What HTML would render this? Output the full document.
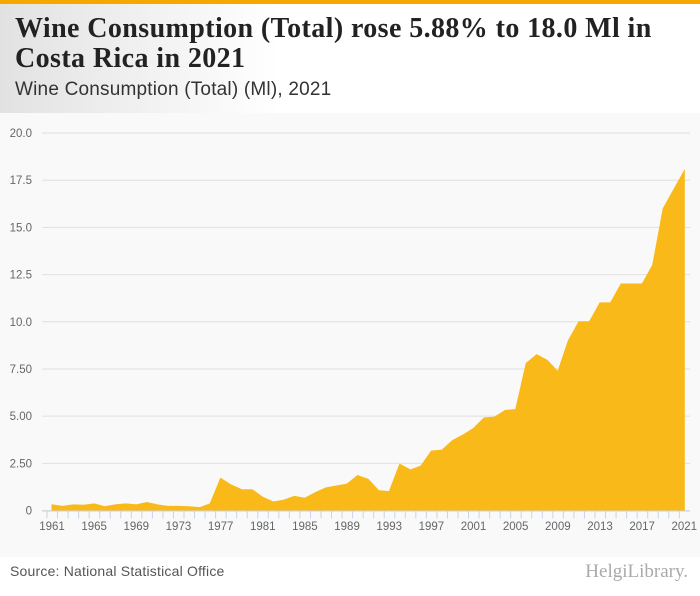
<!DOCTYPE html>
<html><head><meta charset="utf-8"><style>
body{margin:0;width:700px;height:596px;overflow:hidden;background:#fff;font-family:"Liberation Sans",sans-serif}
#hdr{position:absolute;left:0;top:0;width:700px;height:113px;background:linear-gradient(90deg,#e2e2e2 0,#fff 40%,#fff 100%)}
#bar{position:absolute;left:0;top:0;width:700px;height:4px;background:#f5a800}
#title{position:absolute;left:15px;top:14px;font-family:"Liberation Serif",serif;font-weight:bold;font-size:28px;line-height:30px;color:#222;width:650px;letter-spacing:0.4px}
#sub{position:absolute;left:15px;top:79px;font-size:19px;color:#333;letter-spacing:0.2px}
#chart{position:absolute;left:0;top:113px;width:700px;height:444px;background:#f9f9f9}
#foot{position:absolute;left:0;top:557px;width:700px;height:39px;background:#fff}
#src{position:absolute;left:10px;top:563px;font-size:14px;color:#555;letter-spacing:0.2px}
#logo{position:absolute;right:12px;top:561px;font-size:19px;color:#aaa;font-family:"Liberation Serif",serif}
</style></head><body>
<div id="hdr"></div>
<div id="bar"></div>
<div id="title">Wine Consumption (Total) rose 5.88% to 18.0 Ml in Costa Rica in 2021</div>
<div id="sub">Wine Consumption (Total) (Ml), 2021</div>
<div id="chart"></div>
<svg id="svg" width="700" height="596" style="position:absolute;left:0;top:0"></svg>
<div id="foot"></div>
<div id="src">Source: National Statistical Office</div>
<div id="logo">HelgiLibrary.</div>
<script>
const years=[];for(let y=1961;y<=2021;y++)years.push(y);
const values=[0.3,0.22,0.3,0.28,0.35,0.2,0.3,0.35,0.3,0.42,0.3,0.22,0.22,0.2,0.15,0.35,1.7,1.35,1.1,1.1,0.7,0.45,0.55,0.75,0.65,0.95,1.2,1.3,1.4,1.85,1.65,1.05,1.0,2.45,2.15,2.35,3.15,3.2,3.7,4.0,4.35,4.9,4.95,5.3,5.35,7.8,8.25,7.95,7.35,9.0,10.0,10.0,11.0,11.0,12.0,12.0,12.0,13.0,16.0,17.0,18.0];
const yTicks=[0,2.5,5,7.5,10,12.5,15,17.5,20];
const yTickLabels=["0","2.50","5.00","7.50","10.0","12.5","15.0","17.5","20.0"];
const xLabelYears=[1961,1965,1969,1973,1977,1981,1985,1989,1993,1997,2001,2005,2009,2013,2017,2021];
const svg=document.getElementById('svg');const NS='http://www.w3.org/2000/svg';
const X=y=>52+(y-1961)*(684.3-52)/60;
const Y=v=>510.5-v*(510.5-133)/20;
function mk(t,a){const e=document.createElementNS(NS,t);for(const k in a)e.setAttribute(k,a[k]);svg.appendChild(e);return e;}
yTicks.forEach((t,i)=>{
 const g=mk('line',{x1:42,x2:690,y1:Y(t),y2:Y(t),stroke:'#e0e0e0','stroke-width':1});
 
 
 const l=mk('text',{x:32,y:Y(t)+4,'text-anchor':'end','font-size':11.5,fill:'#666','font-family':'Liberation Sans, sans-serif'});
 l.textContent=yTickLabels[i];
 
 
});
let d='M'+X(years[0])+','+Y(0);
years.forEach((y,i)=>{d+=' L'+X(y)+','+Y(values[i]);});
d+=' L'+X(years[years.length-1])+','+Y(0)+' Z';
const a=mk('path',{d:d,fill:'#f9b918',stroke:'#f9b918','stroke-width':1});


const ax=mk('line',{x1:42,x2:690,y1:Y(0)+0.5,y2:Y(0)+0.5,stroke:'#c8d4e8','stroke-width':1});


years.forEach(y=>{
 const t=mk('line',{x1:X(y)-5,x2:X(y)-5,y1:Y(0),y2:Y(0)+8,stroke:'#c8d4e8','stroke-width':1});
 
 
});
xLabelYears.forEach(y=>{
 const l=mk('text',{x:X(y),y:530,'text-anchor':'middle','font-size':11.5,fill:'#666','font-family':'Liberation Sans, sans-serif'});
 l.textContent=y;
 
 
});
</script>
</body></html>
